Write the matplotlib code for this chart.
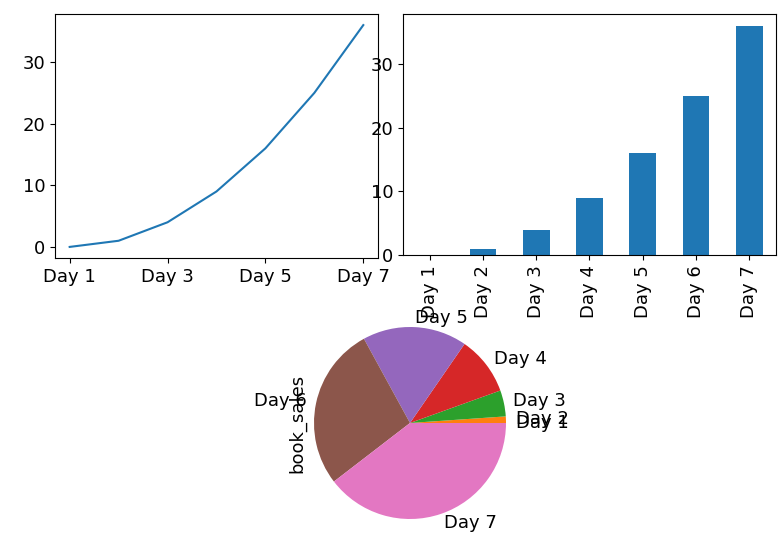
import matplotlib
matplotlib.use("Agg")
import matplotlib.pyplot as plt
import numpy as np

days = ["Day 1", "Day 2", "Day 3", "Day 4", "Day 5", "Day 6", "Day 7"]
book_sales = [0, 1, 4, 9, 16, 25, 36]

plt.rcParams['font.size'] = 13
fig = plt.figure(figsize=(7.79, 5.45), dpi=100)
x = np.arange(len(days))

# line
ax1 = fig.add_axes([0.0706, 0.5266, 0.4146, 0.4477])
ax1.plot(x, book_sales)
ax1.set_xticks(x[::2])
ax1.set_xticklabels(days[::2])
ax1.set_yticks([0, 10, 20, 30])
ax1.set_xlim(-0.3, 6.3)

# bar
ax2 = fig.add_axes([0.5173, 0.532, 0.4788, 0.442])
ax2.bar(x, book_sales, width=0.5)
ax2.set_xticks(x)
ax2.set_xticklabels(days, rotation=90)
ax2.set_yticks([0, 10, 20, 30])
ax2.set_xlim(-0.5, 6.5)

# pie
ax3 = fig.add_axes([290 / 779, 2 / 545, 240 / 779, 240 / 545])
ax3.pie(book_sales, labels=days)
ax3.set_xlim(-1.25, 1.25)
ax3.set_ylim(-1.25, 1.25)
ax3.set_ylabel("book_sales", labelpad=-12)

fig.savefig("out.png")
